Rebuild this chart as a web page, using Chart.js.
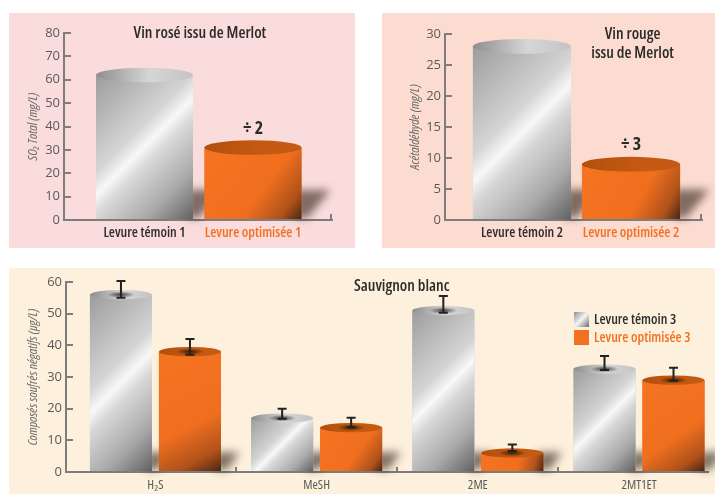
<!DOCTYPE html>
<html>
<head>
<meta charset="utf-8">
<script src="https://cdn.jsdelivr.net/npm/chart.js@4.4.1/dist/chart.umd.min.js"></script>
<style>
  body { margin: 0; background: #fff; width: 717px; height: 495px; position: relative; overflow: hidden; }
  .panel { position: absolute; }
  #p1 { left: 9px; top: 13px; width: 346px; height: 235px; background: #fbdcdc; }
  #p2 { left: 382px; top: 13px; width: 333px; height: 235px; background: #fcdcd0; }
  #p3 { left: 9px; top: 268px; width: 706px; height: 226px; background: #fdf0dc; }
</style>
</head>
<body>
<div class="panel" id="p1"><canvas id="c1"></canvas></div>
<div class="panel" id="p2"><canvas id="c2"></canvas></div>
<div class="panel" id="p3"><canvas id="c3"></canvas></div>
<script>
const FONT = "'Open Sans', 'Liberation Sans', sans-serif";
const GREY_TXT = '#5a5a5a';
const DARK_TXT = '#2e2e2e';
const ORANGE = '#f37021';
const AXIS = '#7d7d7d';

// Vin rosé issu de Merlot - SO2 total (mg/L)
const roseLabels = ['Levure témoin 1', 'Levure optimisée 1'];
const roseSO2 = [62, 31];
const roseNotes = [null, '÷ 2'];

// Vin rouge issu de Merlot - acétaldéhyde (mg/L)
const rougeLabels = ['Levure témoin 2', 'Levure optimisée 2'];
const rougeAcet = [28, 9];
const rougeNotes = [null, '÷ 3'];

// Sauvignon blanc - composés soufrés négatifs (µg/L)
const sauvCats = ['H₂S', 'MeSH', '2ME', '2MT1ET'];
const sauvTemoin = [56, 17, 51, 32.5];
const sauvOptim = [38, 14, 6, 29];
const sauvTemoinLo = [55, 16.8, 50.3, 32.2];
const sauvTemoinHi = [60.3, 20, 55.6, 36.6];
const sauvOptimLo = [37, 14.2, 6.6, 28.8];
const sauvOptimHi = [42, 17.1, 8.7, 32.9];

const labelColors = [DARK_TXT, ORANGE];

function greyBody(ctx, x0, x1, top, base) {
  const w = x1 - x0, h = base - top, xc = (x0 + x1) / 2, ym = (top + base) / 2;
  const L = (w + h) / 4;
  const g = ctx.createLinearGradient(xc - L, ym - L, xc + L, ym + L);
  g.addColorStop(0, '#9c9c9c');
  g.addColorStop(0.4, '#d4d4d4');
  g.addColorStop(0.5, '#f8f8f8');
  g.addColorStop(0.58, '#d8d8d8');
  g.addColorStop(0.8, '#a9a9a9');
  g.addColorStop(1, '#626262');
  return g;
}

function orangeBody(ctx, x0, x1, top, base) {
  const g = ctx.createLinearGradient(x0, top, x1, base);
  g.addColorStop(0, '#f47422');
  g.addColorStop(0.6, '#f06f1f');
  g.addColorStop(0.85, '#b0521a');
  g.addColorStop(1, '#4a2612');
  return g;
}

const cylinders = {
  id: 'cylinders',
  beforeDatasetsDraw(chart) {
    const ctx = chart.ctx;
    chart.data.datasets.forEach((ds, di) => {
      chart.getDatasetMeta(di).data.forEach((el) => {
        const x1 = el.x + el.width / 2;
        const s = el.width * 0.3;
        ctx.save();
        ctx.filter = 'blur(4px)';
        ctx.fillStyle = 'rgba(45,30,20,0.6)';
        ctx.beginPath();
        ctx.moveTo(x1 - 6, el.base - 1);
        ctx.lineTo(x1 - 6, el.base - s);
        ctx.lineTo(x1 + s, el.base - s);
        ctx.lineTo(x1 + 6, el.base - 1);
        ctx.closePath();
        ctx.fill();
        ctx.restore();
      });
    });
  },
  afterDatasetsDraw(chart) {
    const ctx = chart.ctx;
    const yScale = chart.scales.y;
    chart.data.datasets.forEach((ds, di) => {
      chart.getDatasetMeta(di).data.forEach((el, i) => {
        const kind = Array.isArray(ds.cylinder) ? ds.cylinder[i] : ds.cylinder;
        const w = el.width, x0 = el.x - w / 2, x1 = el.x + w / 2;
        const rx = w / 2, ry = w * 0.075;
        ctx.save();
        ctx.fillStyle = kind === 'grey' ? greyBody(ctx, x0, x1, el.y, el.base) : orangeBody(ctx, x0, x1, el.y, el.base);
        ctx.fillRect(x0, el.y, w, el.base - el.y);
        // top ellipse
        let tg = ctx.createLinearGradient(x0, 0, x1, 0);
        if (kind === 'grey') {
          tg.addColorStop(0, '#8e8e8e'); tg.addColorStop(0.55, '#d6d6d6'); tg.addColorStop(1, '#c4c4c4');
        } else {
          tg.addColorStop(0, '#b24f0e'); tg.addColorStop(0.6, '#c55a12'); tg.addColorStop(1, '#c35a13');
        }
        ctx.beginPath();
        ctx.ellipse(el.x, el.y, rx, ry, 0, 0, Math.PI * 2);
        ctx.fillStyle = tg;
        ctx.fill();
        if (ds.errLo) {
          ctx.clip();
          ctx.translate(el.x, el.y);
          ctx.scale(1, ry / rx * 1.6);
          const rg = ctx.createRadialGradient(0, 0, 0, 0, 0, rx * 0.45);
          rg.addColorStop(0, 'rgba(0,0,0,0.7)');
          rg.addColorStop(1, 'rgba(0,0,0,0)');
          ctx.fillStyle = rg;
          ctx.fillRect(-rx, -rx, w, w);
        }
        ctx.restore();
        // error bars
        if (ds.errLo) {
          const yl = yScale.getPixelForValue(ds.errLo[i]);
          const yh = yScale.getPixelForValue(ds.errHi[i]);
          ctx.save();
          ctx.strokeStyle = '#222';
          ctx.lineWidth = 2;
          ctx.beginPath();
          ctx.moveTo(el.x, yl); ctx.lineTo(el.x, yh);
          ctx.moveTo(el.x - 4.5, yl); ctx.lineTo(el.x + 4.5, yl);
          ctx.moveTo(el.x - 4.5, yh); ctx.lineTo(el.x + 4.5, yh);
          ctx.stroke();
          ctx.restore();
        }
        // annotation above bar
        if (ds.notes && ds.notes[i]) {
          ctx.save();
          ctx.fillStyle = '#2a2a2a';
          ctx.font = 'bold condensed 18px ' + FONT;
          ctx.textAlign = 'center';
          ctx.textBaseline = 'middle';
          ctx.fillText(ds.notes[i], el.x, el.y - 19);
          ctx.restore();
        }
      });
    });
  },
  afterDraw(chart, args, opts) {
    const ctx = chart.ctx;
    const area = chart.chartArea;
    ctx.save();
    if (opts.title) {
      ctx.fillStyle = '#2b2b2b';
      ctx.font = '600 condensed 16px ' + FONT;
      ctx.textAlign = 'center';
      ctx.textBaseline = 'middle';
      const tx = area.left + opts.title.x * (area.right - area.left);
      opts.title.lines.forEach((line, k) => ctx.fillText(line, tx, area.top + opts.title.y + k * 19));
    }
    ctx.strokeStyle = AXIS;
    ctx.lineWidth = 2;
    if (opts.endTick) {
      ctx.beginPath();
      ctx.moveTo(area.right - 1, area.bottom);
      ctx.lineTo(area.right - 1, area.bottom - 6);
      ctx.stroke();
    }
    if (opts.separators) {
      const xs = chart.scales.x;
      opts.separators.forEach((v) => {
        const px = Math.round(xs.getPixelForValue(v));
        ctx.beginPath();
        ctx.moveTo(px, area.bottom);
        ctx.lineTo(px, area.bottom - 5);
        ctx.stroke();
      });
    }
    if (opts.legend) {
      const lx = area.right - opts.legend.dx;
      let ly = area.top + opts.legend.dy;
      ctx.font = '600 condensed 14px ' + FONT;
      ctx.textBaseline = 'middle';
      ctx.textAlign = 'left';
      chart.data.datasets.forEach((ds) => {
        if (ds.cylinder === 'grey') {
          const g = ctx.createLinearGradient(lx, ly, lx + 15, ly + 15);
          g.addColorStop(0, '#8e8e8e'); g.addColorStop(0.5, '#f5f5f5'); g.addColorStop(1, '#6a6a6a');
          ctx.fillStyle = g;
        } else {
          ctx.fillStyle = ORANGE;
        }
        ctx.fillRect(lx, ly, 15, 15);
        ctx.fillStyle = ds.cylinder === 'grey' ? DARK_TXT : ORANGE;
        ctx.fillText(ds.label, lx + 20, ly + 8);
        ly += 18;
      });
    }
    ctx.restore();
  }
};

function yAxis(max, step, title, width, titlePad) {
  return {
    min: 0, max: max,
    afterFit: (s) => { s.width = width; s.paddingTop = 8; s.paddingBottom = 8; },
    ticks: { stepSize: step, color: GREY_TXT, padding: 11, font: { family: FONT, size: 13 } },
    title: { display: true, text: title, color: '#6a6a6a', padding: { top: titlePad, bottom: 0 },
             font: { family: FONT, size: 13, style: 'italic', weight: 'condensed' } },
    grid: { drawOnChartArea: false, tickLength: -7, color: AXIS, lineWidth: 2 },
    border: { color: AXIS, width: 2 }
  };
}

function xAxis(labels, min, max, height, pad, bold) {
  return {
    type: 'linear', min: min, max: max, offset: false,
    afterFit: (s) => { s.height = height; },
    afterBuildTicks: (s) => { s.ticks = labels.map((_, i) => ({ value: i + 1 })); },
    ticks: {
      autoSkip: false, maxRotation: 0, padding: pad,
      callback: (v) => labels[v - 1],
      color: bold ? (c) => labelColors[c.index] : GREY_TXT,
      font: bold ? { family: FONT, size: 14, weight: '600 condensed' }
                 : { family: FONT, size: 13, weight: 'condensed' }
    },
    grid: { display: false, drawTicks: false },
    border: { color: AXIS, width: 2 }
  };
}

const base = {
  responsive: true, maintainAspectRatio: false, animation: false,
  events: []
};

new Chart(document.getElementById('c1'), {
  type: 'bar',
  data: {
    datasets: [{
      label: 'SO₂ total',
      data: roseSO2.map((v, i) => ({ x: i + 1, y: v })),
      backgroundColor: ['#c8c8c8', ORANGE],
      cylinder: ['grey', 'orange'],
      notes: roseNotes,
      barPercentage: 0.894, categoryPercentage: 1
    }]
  },
  options: Object.assign({}, base, {
    layout: { padding: { top: 20, right: 23, left: 0, bottom: 0 } },
    plugins: {
      legend: { display: false }, tooltip: { enabled: false },
      cylinders: { title: { lines: ['Vin rosé issu de Merlot'], x: 0.507, y: 0 }, endTick: true }
    },
    scales: {
      x: xAxis(roseLabels, 0.258, 2.728, 28, 5, true),
      y: yAxis(80, 10, 'SO₂ Total (mg/L)', 55, 16)
    }
  }),
  plugins: [cylinders]
});

new Chart(document.getElementById('c2'), {
  type: 'bar',
  data: {
    datasets: [{
      label: 'Acétaldéhyde',
      data: rougeAcet.map((v, i) => ({ x: i + 1, y: v })),
      backgroundColor: ['#c8c8c8', ORANGE],
      cylinder: ['grey', 'orange'],
      notes: rougeNotes,
      barPercentage: 0.9, categoryPercentage: 1
    }]
  },
  options: Object.assign({}, base, {
    layout: { padding: { top: 21, right: 13, left: 0, bottom: 0 } },
    plugins: {
      legend: { display: false }, tooltip: { enabled: false },
      cylinders: { title: { lines: ['Vin rouge', 'issu de Merlot'], x: 0.73, y: 0 }, endTick: true }
    },
    scales: {
      x: xAxis(rougeLabels, 0.294, 2.651, 28, 5, true),
      y: yAxis(30, 5, 'Acétaldéhyde (mg/L)', 63, 25)
    }
  }),
  plugins: [cylinders]
});

new Chart(document.getElementById('c3'), {
  type: 'bar',
  data: {
    datasets: [{
      label: 'Levure témoin 3',
      data: sauvTemoin.map((v, i) => ({ x: i + 1, y: v })),
      backgroundColor: '#c8c8c8',
      cylinder: 'grey',
      errLo: sauvTemoinLo, errHi: sauvTemoinHi,
      barPercentage: 0.9, categoryPercentage: 0.856
    }, {
      label: 'Levure optimisée 3',
      data: sauvOptim.map((v, i) => ({ x: i + 1, y: v })),
      backgroundColor: ORANGE,
      cylinder: 'orange',
      errLo: sauvOptimLo, errHi: sauvOptimHi,
      barPercentage: 0.9, categoryPercentage: 0.856
    }]
  },
  options: Object.assign({}, base, {
    layout: { padding: { top: 14, right: 7, left: 0, bottom: 0 } },
    plugins: {
      legend: { display: false }, tooltip: { enabled: false },
      cylinders: {
        title: { lines: ['Sauvignon blanc'], x: 0.523, y: 4 },
        separators: [1.5, 2.5, 3.5],
        legend: { dx: 134, dy: 30 }
      }
    },
    scales: {
      x: xAxis(sauvCats, 0.445, 4.428, 22, 5, false),
      y: yAxis(60, 10, 'Composés soufrés négatifs (µg/L)', 57, 16)
    }
  }),
  plugins: [cylinders]
});
</script>
</body>
</html>
